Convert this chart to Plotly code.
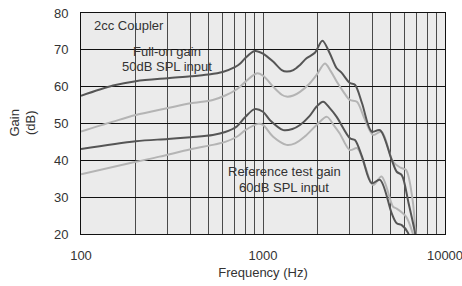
import plotly.graph_objects as go

# Full-on gain, 50dB SPL input (dark)
full_dark_f = [100, 150, 200, 300, 400, 500, 600, 700, 750, 800, 900, 1000, 1137, 1268, 1347, 1468, 1597,
               1734, 1928, 2120, 2330, 2540, 2700, 3000, 3200, 3500, 3957, 4394, 5096, 5430, 5785, 6300, 6844, 7100]
full_dark_g = [57.5, 60.3, 61.5, 62.3, 62.8, 63.3, 64.0, 65.3, 66.3, 67.8, 69.7, 69.0, 66.8, 64.5, 64.1, 64.5, 65.9,
               67.7, 69.2, 72.5, 69.0, 65.0, 63.8, 61.0, 60.5, 55.5, 47.8, 48.2, 40.1, 36.9, 36.0, 28.5, 20.3, 15.0]

# Full-on gain (light)
full_light_f = [100, 150, 200, 300, 400, 530, 620, 718, 800, 922, 1000, 1137, 1268, 1347, 1468, 1597, 1800,
                1970, 2189, 2350, 2540, 2750, 3000, 3280, 3600, 4028, 4480, 5185, 5700, 6110, 6640, 6900, 7100]
full_light_g = [47.8, 50.5, 52.3, 54.2, 55.5, 56.4, 57.6, 59.3, 61.3, 63.6, 63.0, 60.0, 57.8, 57.3, 57.6, 58.6, 60.8,
                63.2, 66.3, 64.3, 61.4, 58.8, 56.4, 55.9, 51.5, 46.9, 47.8, 39.6, 38.0, 37.4, 29.2, 20.3, 16.0]

# Reference test gain, 60dB SPL input (dark)
ref_dark_f = [100, 200, 300, 400, 530, 620, 718, 800, 900, 1000, 1093, 1293, 1450, 1597, 1800, 1970, 2140,
              2334, 2540, 3006, 3200, 3500, 3957, 4394, 5096, 5430, 5785, 6263, 6500]
ref_dark_g = [43.1, 45.2, 45.8, 46.3, 46.9, 47.7, 49.2, 51.8, 53.9, 53.2, 50.9, 48.2, 48.5, 49.6, 52.0, 54.6, 55.9,
              54.1, 51.8, 46.0, 45.5, 41.0, 33.8, 34.7, 25.6, 22.9, 22.4, 20.3, 17.0]

# Reference test gain (light)
ref_light_f = [100, 200, 270, 400, 530, 620, 718, 800, 940, 1000, 1137, 1347, 1500, 1700, 1970, 2245, 2450,
               2640, 3000, 3290, 3600, 4028, 4480, 5185, 5430, 6110, 6640, 7000]
ref_light_g = [36.2, 39.6, 41.0, 43.0, 44.2, 45.0, 46.4, 48.2, 49.9, 49.6, 46.4, 44.2, 44.6, 46.5, 49.6, 51.8, 49.5,
               47.3, 42.8, 43.3, 39.0, 33.3, 35.6, 27.4, 26.9, 24.7, 20.3, 16.0]

x_tickvals = [100, 200, 300, 400, 500, 600, 700, 800, 900,
              1000, 2000, 3000, 4000, 5000, 6000, 7000, 8000, 9000, 10000]
x_ticktext = ["100"] + [""] * 8 + ["1000"] + [""] * 8 + ["10000"]
y_tickvals = [20, 30, 40, 50, 60, 70, 80]

DARK = "#555555"
LIGHT = "#b4b4b4"
TXT = "#333333"
FONT = "Liberation Sans, Arial, sans-serif"

fig = go.Figure()
for f, g, c in [(full_light_f, full_light_g, LIGHT), (ref_light_f, ref_light_g, LIGHT),
                (full_dark_f, full_dark_g, DARK), (ref_dark_f, ref_dark_g, DARK)]:
    fig.add_trace(go.Scatter(x=f, y=g, mode="lines",
                             line=dict(color=c, width=2, shape="spline", smoothing=0.9),
                             showlegend=False, hoverinfo="skip"))

fig.update_layout(
    width=462, height=286,
    margin=dict(l=81, r=17, t=13, b=52),
    paper_bgcolor="white", plot_bgcolor="#ebebeb",
    font=dict(family=FONT, size=13, color=TXT),
    showlegend=False,
)
fig.update_xaxes(
    type="log", range=[2, 4],
    tickvals=x_tickvals, ticktext=x_ticktext,
    showgrid=True, gridcolor="#4a4a4a", gridwidth=1.2,
    showline=True, linecolor="#111", linewidth=1, mirror=True,
    ticks="", ticklabelstandoff=9, ticklabeloverflow="allow",
    zeroline=False, automargin=False,
    title=dict(text="Frequency (Hz)", font=dict(size=13, color=TXT), standoff=6),
)
fig.update_yaxes(
    range=[20, 80], tickvals=y_tickvals,
    showgrid=True, gridcolor="#111", gridwidth=1,
    showline=True, linecolor="#111", linewidth=1, mirror=True,
    ticks="", ticklabelstandoff=9,
    zeroline=False, automargin=False,
)

fig.add_annotation(x=0, y=0.5, xref="paper", yref="paper", text="Gain<br>(dB)", textangle=-90,
                   showarrow=False, xanchor="right", yanchor="middle", xshift=-41,
                   font=dict(size=13, color=TXT))
fig.add_annotation(x=0.03, y=0.945, xref="paper", yref="paper", text="2cc Coupler",
                   showarrow=False, xanchor="left", yanchor="middle", font=dict(size=13, color=TXT))
fig.add_annotation(x=0.237, y=0.826, xref="paper", yref="paper", text="Full-on gain",
                   showarrow=False, xanchor="center", yanchor="middle", font=dict(size=13, color=TXT))
fig.add_annotation(x=0.237, y=0.758, xref="paper", yref="paper", text="50dB SPL input",
                   showarrow=False, xanchor="center", yanchor="middle", font=dict(size=13, color=TXT))
fig.add_annotation(x=0.559, y=0.282, xref="paper", yref="paper", text="Reference test gain",
                   showarrow=False, xanchor="center", yanchor="middle", font=dict(size=13, color=TXT))
fig.add_annotation(x=0.559, y=0.211, xref="paper", yref="paper", text="60dB SPL input",
                   showarrow=False, xanchor="center", yanchor="middle", font=dict(size=13, color=TXT))

fig.write_html("out.html", config={"displayModeBar": False},
               post_script="document.body.style.margin='0px';document.body.style.overflow='hidden';")
